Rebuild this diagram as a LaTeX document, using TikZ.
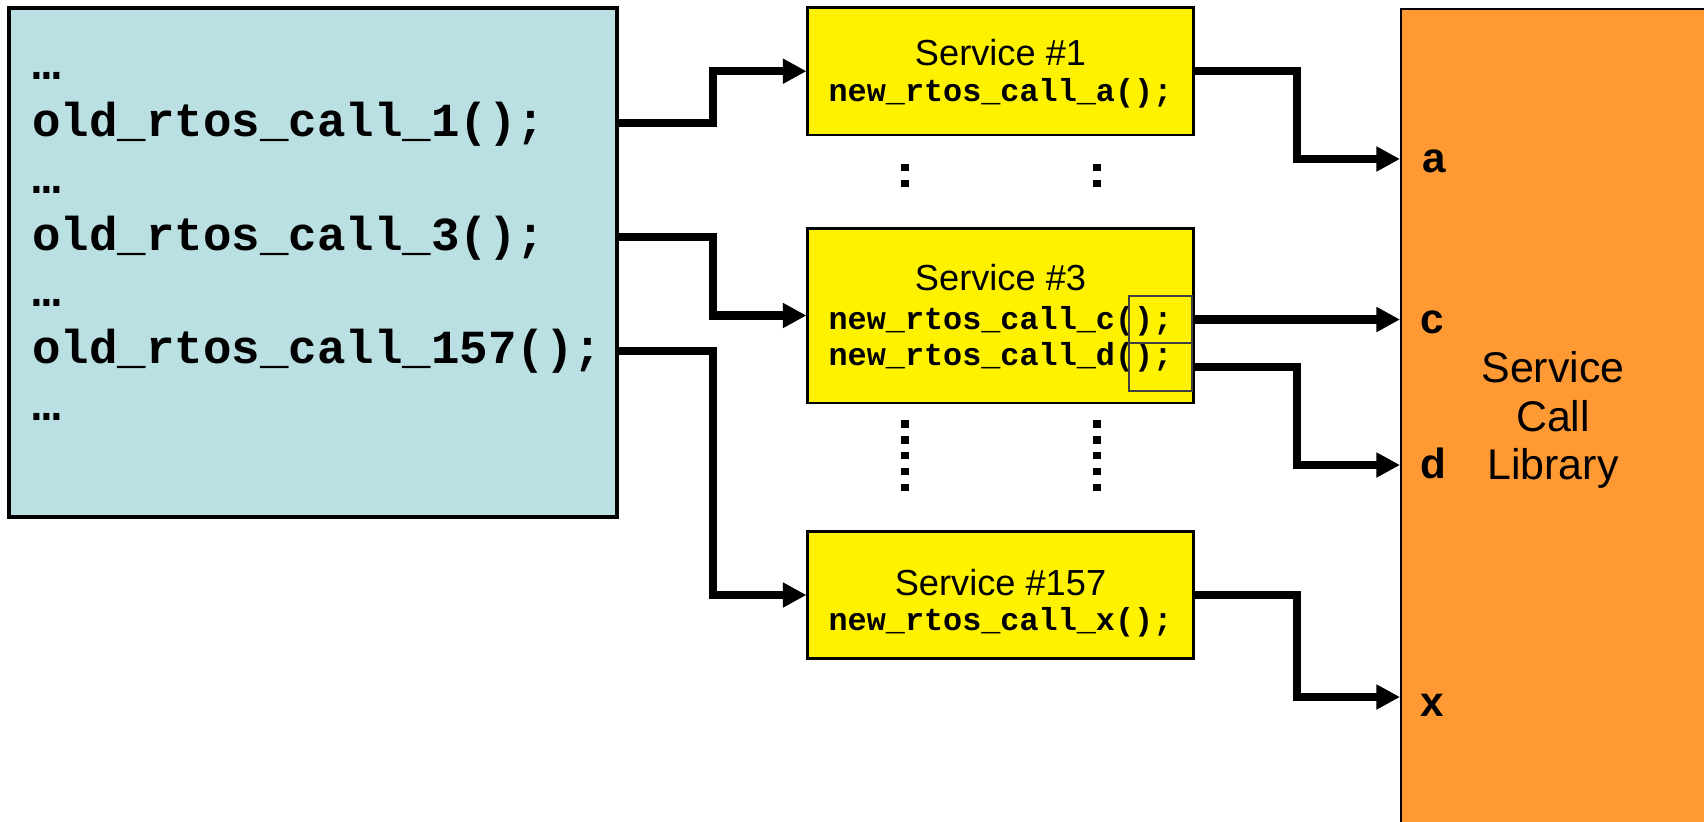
\documentclass[tikz,border=0pt]{standalone}
\usepackage{fontspec}
\setmainfont{Liberation Sans}
\setmonofont{Liberation Mono}
\usetikzlibrary{arrows.meta}
\definecolor{codeblue}{HTML}{BBE0E3}
\definecolor{liborange}{HTML}{FF9933}
\tikzset{
  wire/.style={line width=2.3pt},
  conn/.style={wire, -{Triangle[length=6.7pt,width=6.7pt]}},
  oldcode/.style={font=\fontsize{13.5}{16}\selectfont\ttfamily\bfseries, inner sep=0pt, anchor=base west},
  svcbox/.style={draw, line width=0.8pt, fill=yellow, minimum width=3.85cm, inner sep=0pt},
  svctitle/.style={font=\fontsize{10.3}{12}\selectfont, inner sep=0pt, anchor=base},
  svccode/.style={font=\fontsize{9.05}{11}\selectfont\ttfamily\bfseries, inner sep=0pt, anchor=base},
  retbox/.style={draw=black!75, line width=0.6pt, minimum width=0.63cm, minimum height=0.476cm, inner sep=0pt},
  port/.style={font=\fontsize{12}{14}\selectfont\bfseries, inner sep=0pt, anchor=mid west, yshift=-1.3pt},
  dotcol/.style={line width=2.1pt, dash pattern=on 2.08pt off 2.45pt},
}
\begin{document}
\begin{tikzpicture}[x=0.01cm,y=-0.01cm]
\useasboundingbox (0,0) rectangle (1704,821);
% application code
\node[draw, line width=1pt, fill=codeblue, minimum width=6.08cm, minimum height=5.09cm, inner sep=0pt] (lbox) at (313,262.5) {};
\node[oldcode] (dots1) at (31.7,79) {…};
\node[oldcode] (old1) at (31.7,136) {old\_rtos\_call\_1();};
\node[oldcode] (dots2) at (31.7,193) {…};
\node[oldcode] (old3) at (31.7,250) {old\_rtos\_call\_3();};
\node[oldcode] (dots3) at (31.7,306.5) {…};
\node[oldcode] (old157) at (31.7,363.5) {old\_rtos\_call\_157();};
\node[oldcode] (dots4) at (31.7,420) {…};
% library
\node[draw, line width=0.6pt, fill=liborange, minimum width=3.1cm, minimum height=8.2cm, inner sep=0pt, anchor=north west] (lib) at (1400,8) {};
\node[align=center, font=\fontsize{12.2}{13.9}\selectfont] (libtxt) at (1553,420) {Service\\Call\\Library};
\coordinate (ia) at (1400,159);
\coordinate (ic) at (1400,319.5);
\coordinate (id) at (1400,465);
\coordinate (ix) at (1400,697);
\node[port] (pa) at ([xshift=0.6pt]ia -| 1420,0) {a};
\node[port] (pc) at (ic -| 1420,0) {c};
\node[port] (pd) at (id -| 1420,0) {d};
\node[port, yshift=-1.5pt] (px) at (ix -| 1420,0) {x};
% services
\node[svcbox, minimum height=1.277cm] (s1) at (1000.5,71.2) {};
\node[svctitle] (t1) at (1000.5,65) {Service \#1};
\node[svccode] (ca) at (1000.5,101.7) {new\_rtos\_call\_a();};
\node[svcbox, minimum height=1.747cm] (s3) at (1000.5,315.5) {};
\node[svctitle] (t3) at (1000.5,290.7) {Service \#3};
\node[svccode] (cc) at (1000.5,329) {new\_rtos\_call\_c();};
\node[svccode] (cd) at (1000.5,365.7) {new\_rtos\_call\_d();};
\node[retbox] (rc) at (1160.5,319.5) {};
\node[retbox] (rd) at (1160.5,367) {};
\node[svcbox, minimum height=1.275cm] (s157) at (1000.5,595) {};
\node[svctitle] (t157) at (1000.5,595) {Service \#157};
\node[svccode] (cx) at (1000.5,630) {new\_rtos\_call\_x();};
% omitted services
\foreach \x in {905,1097}{
  \draw[dotcol] (\x,164) -- (\x,187.4);
  \draw[dotcol] (\x,420.3) -- (\x,491);
}
% calls
\coordinate (bendL) at (713,0);
\coordinate (bendR) at (1296.7,0);
\draw[conn] ([yshift=1pt]old1.mid -| lbox.east) -| (bendL |- s1.west) -- (s1.west);
\draw[conn] ([yshift=1pt]old3.mid -| lbox.east) -| (bendL |- s3.west) -- (s3.west);
\draw[conn] ([yshift=1pt]old157.mid -| lbox.east) -| (bendL |- s157.west) -- (s157.west);
\draw[conn] (s1.east) -| (bendR |- ia) -- (ia);
\draw[conn] (rc.east) -- (ic);
\draw[conn] (rd.east) -| (bendR |- id) -- (id);
\draw[conn] (s157.east) -| (bendR |- ix) -- (ix);
\end{tikzpicture}
\end{document}
